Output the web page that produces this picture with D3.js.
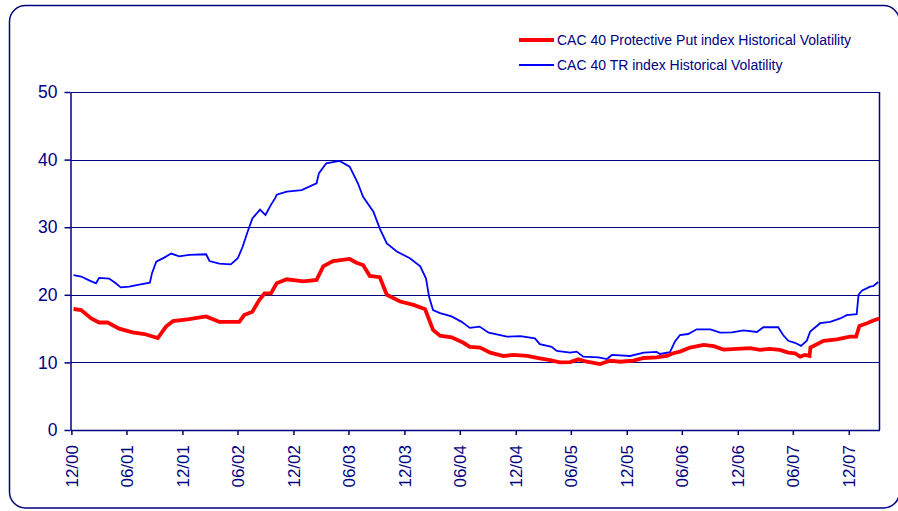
<!DOCTYPE html>
<html>
<head>
<meta charset="utf-8">
<script src="https://cdn.jsdelivr.net/npm/d3@7"></script>
<style>
    body { margin: 0; background: #fff; }
    svg { display: block; font-family: Arial, "Liberation Sans", sans-serif; }
    .frame { fill: none; stroke: #000080; stroke-width: 1.5; }
    .grid line { stroke: #000080; stroke-width: 1; }
    .axis path, .axis line { stroke: #000080; stroke-width: 1.5; }
    .axis text { fill: #000080; }
    .legend text { fill: #000080; font-size: 14px; }
</style>
</head>
<body>
<script>
//wrap everything in an anonymous function so nothing is in global scope
(function () {

    //series names
    var seriesNames = ["CAC 40 Protective Put index Historical Volatility", "CAC 40 TR index Historical Volatility"];

    //x axis tick labels (month/year)
    var tickLabels = ["12/00", "06/01", "12/01", "06/02", "12/02", "06/03", "12/03", "06/04",
        "12/04", "06/05", "12/05", "06/06", "12/06", "06/07", "12/07"];

    //y axis ticks
    var yTicks = [0, 10, 20, 30, 40, 50];

    //protective put index volatility (red)
    var putDates = ["2001-01-06", "2001-01-31", "2001-03-05", "2001-03-31", "2001-04-28", "2001-06-05",
        "2001-07-19", "2001-08-27", "2001-10-10", "2001-11-06", "2001-11-29", "2002-01-21", "2002-03-18",
        "2002-04-30", "2002-07-05", "2002-07-21", "2002-08-17", "2002-09-08", "2002-09-26", "2002-10-17",
        "2002-11-05", "2002-12-08", "2003-02-01", "2003-03-16", "2003-04-07", "2003-05-09", "2003-07-03",
        "2003-07-25", "2003-08-16", "2003-09-07", "2003-10-10", "2003-11-02", "2003-12-16", "2004-01-29",
        "2004-03-07", "2004-04-02", "2004-04-25", "2004-06-02", "2004-07-11", "2004-08-01", "2004-09-04",
        "2004-10-07", "2004-11-20", "2004-12-23", "2005-02-05", "2005-03-19", "2005-04-22", "2005-05-24",
        "2005-06-27", "2005-07-24", "2005-08-21", "2005-10-03", "2005-11-05", "2005-12-08", "2006-01-21",
        "2006-02-24", "2006-04-07", "2006-05-10", "2006-06-01", "2006-06-23", "2006-07-26", "2006-09-09",
        "2006-10-12", "2006-11-13", "2006-12-27", "2007-02-09", "2007-03-13", "2007-04-14", "2007-05-17",
        "2007-06-14", "2007-07-06", "2007-07-23", "2007-08-08", "2007-08-23", "2007-08-26", "2007-10-08",
        "2007-11-21", "2008-01-03", "2008-01-23", "2008-02-03", "2008-02-28", "2008-03-20", "2008-04-08"];
    var putValues = [17.9, 17.75, 16.5, 15.9, 15.9, 15.0,
        14.45, 14.2, 13.6, 15.3, 16.1, 16.4, 16.8,
        16.0, 16.0, 17.0, 17.5, 19.2, 20.2, 20.2,
        21.7, 22.3, 22.0, 22.2, 24.2, 25.0, 25.3,
        24.75, 24.4, 22.8, 22.6, 20.0, 19.0, 18.5,
        17.85, 14.8, 13.95, 13.7, 12.9, 12.3, 12.2,
        11.45, 10.95, 11.1, 10.95, 10.6, 10.35, 10.0,
        10.05, 10.45, 10.1, 9.75, 10.25, 10.1, 10.25,
        10.65, 10.75, 10.95, 11.35, 11.6, 12.2, 12.6,
        12.4, 11.9, 12.0, 12.1, 11.85, 12.0, 11.85,
        11.45, 11.35, 10.85, 11.1, 10.95, 12.2, 13.2,
        13.4, 13.8, 13.8, 15.4, 15.8, 16.2, 16.5];

    //TR index volatility (blue)
    var trDates = ["2001-01-06", "2001-01-31", "2001-02-28", "2001-03-21", "2001-03-31", "2001-05-03",
        "2001-05-25", "2001-06-10", "2001-07-08", "2001-08-10", "2001-09-14", "2001-09-21", "2001-10-05",
        "2001-10-31", "2001-11-23", "2001-12-20", "2002-01-21", "2002-03-18", "2002-03-29", "2002-04-30",
        "2002-06-07", "2002-06-30", "2002-07-16", "2002-08-01", "2002-08-17", "2002-09-11", "2002-09-29",
        "2002-10-17", "2002-10-31", "2002-11-05", "2002-12-08", "2003-01-26", "2003-03-16", "2003-03-24",
        "2003-04-17", "2003-05-31", "2003-07-03", "2003-07-30", "2003-08-16", "2003-09-19", "2003-10-10",
        "2003-11-02", "2003-12-05", "2004-01-17", "2004-02-20", "2004-03-10", "2004-03-20", "2004-04-02",
        "2004-04-25", "2004-06-02", "2004-07-05", "2004-08-01", "2004-09-02", "2004-10-02", "2004-11-09",
        "2004-12-01", "2005-01-14", "2005-03-03", "2005-03-19", "2005-04-27", "2005-05-14", "2005-06-27",
        "2005-07-18", "2005-08-09", "2005-09-28", "2005-10-26", "2005-11-11", "2006-01-10", "2006-02-24",
        "2006-04-07", "2006-04-18", "2006-05-21", "2006-06-06", "2006-06-23", "2006-07-20", "2006-08-17",
        "2006-10-01", "2006-11-02", "2006-12-11", "2007-01-18", "2007-03-03", "2007-03-24", "2007-05-12",
        "2007-05-28", "2007-06-14", "2007-07-06", "2007-07-26", "2007-08-14", "2007-08-25", "2007-09-27",
        "2007-10-30", "2007-12-02", "2007-12-23", "2008-01-25", "2008-01-31", "2008-02-11", "2008-03-09",
        "2008-03-20", "2008-04-05"];
    var trValues = [22.9, 22.7, 22.1, 21.7, 22.5, 22.4,
        21.7, 21.1, 21.2, 21.5, 21.8, 23.2, 24.9,
        25.5, 26.1, 25.7, 25.9, 26.0, 25.0, 24.6,
        24.5, 25.4, 27.1, 29.3, 31.3, 32.6, 31.8,
        33.3, 34.3, 34.8, 35.25, 35.5, 36.5, 38.0,
        39.45, 39.8, 38.95, 36.5, 34.5, 32.3, 29.8,
        27.6, 26.4, 25.4, 24.2, 22.4, 19.7, 17.75,
        17.3, 16.8, 16.0, 15.1, 15.3, 14.4, 14.05,
        13.8, 13.9, 13.55, 12.7, 12.3, 11.7, 11.45,
        11.6, 10.85, 10.75, 10.5, 11.1, 10.95, 11.45,
        11.55, 11.25, 11.5, 13.05, 14.05, 14.2, 14.9,
        14.9, 14.4, 14.45, 14.75, 14.5, 15.2, 15.2,
        14.05, 13.2, 12.9, 12.45, 13.2, 14.55, 15.8,
        16.0, 16.5, 17.0, 17.15, 20.0, 20.6, 21.2,
        21.3, 21.9];

    //begin script when window loads
    window.onload = setChart();

    function setChart() {

        //chart frame dimensions
        var width = 898,
            height = 511,
            left = 70.5,
            right = 879.5,
            top = 92,
            bottom = 430;

        var parseDate = d3.timeParse("%Y-%m-%d"),
            parseTick = d3.timeParse("%m/%y");

        //join dates and values into point lists
        var putData = putDates.map(function (d, i) {
            return { date: parseDate(d), value: putValues[i] };
        });
        var trData = trDates.map(function (d, i) {
            return { date: parseDate(d), value: trValues[i] };
        });

        //ticks sit at the end of each labelled month
        var tickDates = tickLabels.map(function (l) {
            return d3.timeDay.offset(d3.timeMonth.offset(parseTick(l), 1), -2);
        });

        var svg = d3.select("body")
            .append("svg")
            .attr("width", width)
            .attr("height", height);

        //rounded outer frame
        svg.append("rect")
            .attr("class", "frame")
            .attr("x", 9.5)
            .attr("y", 5.5)
            .attr("width", 890)
            .attr("height", 502.5)
            .attr("rx", 16)
            .attr("ry", 16);

        var xScale = d3.scaleTime()
            .domain([parseDate("2000-12-27"), parseDate("2008-04-09")])
            .range([left, right]);

        var yScale = d3.scaleLinear()
            .domain([0, 50])
            .range([bottom, top]);

        //horizontal gridlines
        svg.append("g")
            .attr("class", "grid")
            .selectAll("line")
            .data(yTicks.slice(1))
            .enter()
            .append("line")
            .attr("x1", left)
            .attr("x2", right)
            .attr("y1", function (d) { return Math.round(yScale(d)) + 0.5; })
            .attr("y2", function (d) { return Math.round(yScale(d)) + 0.5; });

        //right border of plot area
        svg.append("line")
            .attr("x1", right)
            .attr("x2", right)
            .attr("y1", top)
            .attr("y2", bottom)
            .style("stroke", "#000080")
            .style("stroke-width", 1.5);

        //lines
        var line = d3.line()
            .x(function (d) { return xScale(d.date); })
            .y(function (d) { return yScale(d.value); });

        svg.append("path")
            .datum(trData)
            .attr("d", line)
            .style("fill", "none")
            .style("stroke", "#0000ff")
            .style("stroke-width", 1.8);

        svg.append("path")
            .datum(putData)
            .attr("d", line)
            .style("fill", "none")
            .style("stroke", "#ff0000")
            .style("stroke-width", 3.8);

        //y axis
        var yAxis = d3.axisLeft(yScale)
            .tickValues(yTicks)
            .tickSize(6)
            .tickPadding(7)
            .tickSizeOuter(0);

        var yg = svg.append("g")
            .attr("class", "axis")
            .attr("transform", "translate(" + left + ",0)")
            .call(yAxis);
        yg.selectAll("text").style("font-size", "17.5px");

        //x axis
        var xAxis = d3.axisBottom(xScale)
            .tickValues(tickDates)
            .tickFormat(function (d, i) { return tickLabels[i]; })
            .tickSize(5)
            .tickSizeOuter(0);

        var xg = svg.append("g")
            .attr("class", "axis")
            .attr("transform", "translate(0," + bottom + ")")
            .call(xAxis);
        xg.selectAll("text")
            .style("font-size", "17px")
            .attr("text-anchor", "end")
            .attr("transform", "rotate(-90)")
            .attr("x", -15)
            .attr("y", 0)
            .attr("dy", "0.35em");

        //legend
        var legend = svg.append("g").attr("class", "legend");
        var legendItems = [
            { name: seriesNames[0], color: "#ff0000", w: 4, y: 40 },
            { name: seriesNames[1], color: "#0000ff", w: 1.8, y: 65 }
        ];
        legendItems.forEach(function (item) {
            legend.append("line")
                .attr("x1", 519)
                .attr("x2", 554)
                .attr("y1", item.y)
                .attr("y2", item.y)
                .style("stroke", item.color)
                .style("stroke-width", item.w);
            legend.append("text")
                .attr("x", 557)
                .attr("y", item.y + 5)
                .text(item.name);
        });
    };

})();
</script>
</body>
</html>
